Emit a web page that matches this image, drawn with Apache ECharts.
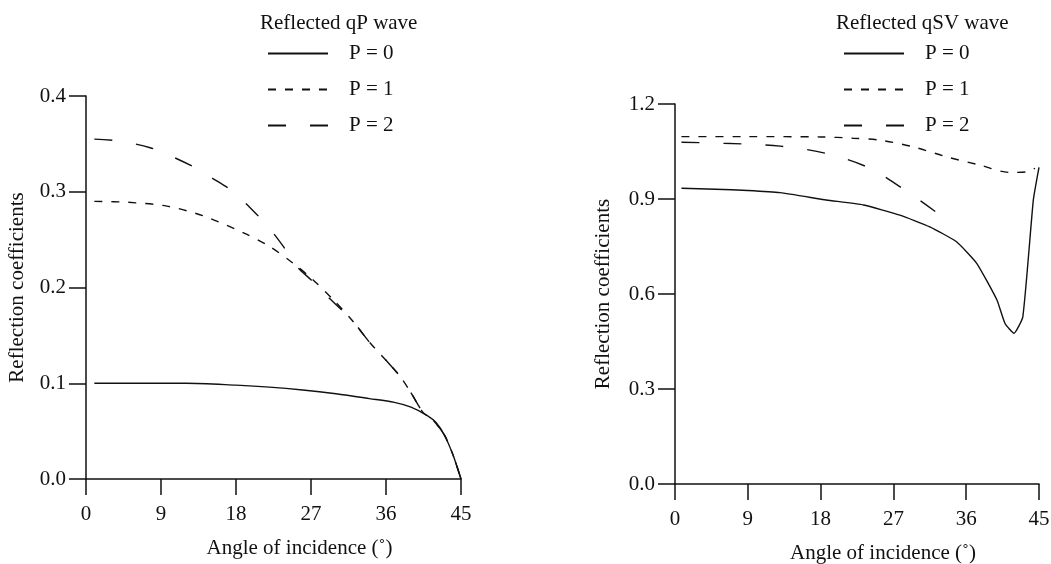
<!DOCTYPE html>
<html>
<head>
<meta charset="utf-8">
<script src="https://cdn.jsdelivr.net/npm/echarts@6/dist/echarts.min.js"></script>
<style>
  html, body { margin: 0; padding: 0; background: #fff; }
  #chart { width: 1051px; height: 564px; }
</style>
</head>
<body>
<div id="chart"></div>
<script>
// angle ticks
const angleTicks = [0, 9, 18, 27, 36, 45];
const legendNames = ['P = 0', 'P = 1', 'P = 2'];

// reflected qP wave
const qpAngle0 = [1, 6, 12, 18, 22, 26, 30, 34, 37, 39, 41, 42, 43, 44, 45];
const qpP0 = [0.1, 0.1, 0.1, 0.098, 0.096, 0.093, 0.089, 0.084, 0.080, 0.075, 0.066, 0.059, 0.046, 0.026, 0];
const qpAngle1 = [1, 5, 9.7, 14, 18.9, 22, 24.9, 27, 29.7, 32, 34.1, 36, 37.7, 39, 40.5, 41.5, 43, 44, 45];
const qpP1 = [0.29, 0.289, 0.285, 0.275, 0.257, 0.243, 0.225, 0.21, 0.187, 0.165, 0.142, 0.124, 0.107, 0.09, 0.069, 0.063, 0.046, 0.026, 0];
const qpAngle2 = [1, 4, 7.7, 10, 12.9, 15, 17.7, 19.5, 21.7, 23.5, 25.3, 27, 29.3, 32, 34.1, 36, 37.7, 39, 40.5, 41.5, 43, 44, 45];
const qpP2 = [0.355, 0.353, 0.346, 0.338, 0.326, 0.315, 0.300, 0.285, 0.265, 0.245, 0.222, 0.208, 0.188, 0.165, 0.142, 0.124, 0.107, 0.09, 0.069, 0.063, 0.046, 0.026, 0];

// reflected qSV wave
const svAngle0 = [0.8, 5, 9, 13, 18.7, 23.3, 27.8, 31.5, 34.8, 37.3, 39.8, 40.8, 41.9, 43, 44.3, 45];
const svP0 = [0.934, 0.931, 0.927, 0.920, 0.897, 0.881, 0.849, 0.812, 0.765, 0.697, 0.581, 0.507, 0.476, 0.528, 0.897, 1.0];
const svAngle1 = [0.8, 9, 18, 22, 25.3, 29.4, 33.6, 37.7, 41.4, 43.5, 44.5];
const svP1 = [1.097, 1.097, 1.096, 1.092, 1.086, 1.065, 1.033, 1.007, 0.984, 0.986, 0.997];
const svAngle2 = [0.8, 6, 13, 18.7, 24.1, 29, 33.6, 34.5];
const svP2 = [1.079, 1.076, 1.067, 1.044, 0.997, 0.918, 0.834, 0.815];

const serif = "'Liberation Serif', 'Times New Roman', serif";
const ink = '#111';
const fs = 21;
const dashStyles = ['solid', [8, 9], [18, 24]];

function pairs(xs, ys) {
    return xs.map((x, i) => [x, ys[i]]);
}

function makeSeries(idx, name, xs, ys, smooth) {
    return {
        name: name,
        type: 'line',
        xAxisIndex: idx,
        yAxisIndex: idx,
        data: pairs(xs, ys),
        symbol: 'none',
        smooth: smooth,
        lineStyle: {color: ink, width: 1.4, type: dashStyles[legendNames.indexOf(name)]},
        itemStyle: {color: ink},
        animation: false
    };
}

function xAxisFor(idx) {
    return {
        type: 'value',
        gridIndex: idx,
        min: 0, max: 45, interval: 9,
        name: 'Angle of incidence (˚)',
        nameLocation: 'middle',
        nameGap: 59,
        nameTextStyle: {fontFamily: serif, fontSize: fs, color: ink, padding: [0, 0, 0, 52]},
        axisLine: {lineStyle: {color: ink, width: 1.5}},
        axisTick: {inside: false, length: 16, lineStyle: {color: ink, width: 1.5}},
        axisLabel: {fontFamily: serif, fontSize: fs, color: ink, margin: 25,
            formatter: v => angleTicks.includes(v) ? String(v) : ''},
        splitLine: {show: false}
    };
}

function yAxisFor(idx, max, interval, gap) {
    return {
        type: 'value',
        gridIndex: idx,
        min: 0, max: max, interval: interval,
        name: 'Reflection coefficients',
        nameLocation: 'middle',
        nameGap: gap,
        nameTextStyle: {fontFamily: serif, fontSize: fs, color: ink},
        axisLine: {show: true, lineStyle: {color: ink, width: 1.5}},
        axisTick: {show: true, inside: false, length: 17, lineStyle: {color: ink, width: 1.5}},
        axisLabel: {fontFamily: serif, fontSize: fs, color: ink, margin: 20,
            formatter: v => v.toFixed(1)},
        splitLine: {show: false}
    };
}

function legendFor(left) {
    return {
        orient: 'vertical',
        left: left,
        top: 38,
        itemWidth: 60,
        itemHeight: 14,
        itemGap: 15,
        data: legendNames,
        selectedMode: false,
        itemStyle: {opacity: 0},
        textStyle: {fontFamily: serif, fontSize: fs, color: ink, padding: [0, 0, 0, 16]}
    };
}

const chart = echarts.init(document.getElementById('chart'));
chart.setOption({
    backgroundColor: '#fff',
    animation: false,
    title: [
        {text: 'Reflected qP wave', left: 255, top: 8,
            textStyle: {fontFamily: serif, fontSize: fs, fontWeight: 'normal', color: ink}},
        {text: 'Reflected qSV wave', left: 831, top: 8,
            textStyle: {fontFamily: serif, fontSize: fs, fontWeight: 'normal', color: ink}}
    ],
    legend: [legendFor(262), legendFor(838)],
    grid: [
        {left: 86, top: 96, width: 375, height: 383, outerBoundsMode: 'none'},
        {left: 675, top: 104, width: 364, height: 380, outerBoundsMode: 'none'}
    ],
    xAxis: [xAxisFor(0), xAxisFor(1)],
    yAxis: [yAxisFor(0, 0.4, 0.1, 58), yAxisFor(1, 1.2, 0.3, 61)],
    series: [
        makeSeries(0, 'P = 0', qpAngle0, qpP0, 0.3),
        makeSeries(0, 'P = 1', qpAngle1, qpP1, 0.3),
        makeSeries(0, 'P = 2', qpAngle2, qpP2, 0.3),
        makeSeries(1, 'P = 0', svAngle0, svP0, 0.15),
        makeSeries(1, 'P = 1', svAngle1, svP1, 0.3),
        makeSeries(1, 'P = 2', svAngle2, svP2, 0.3)
    ]
});
</script>
</body>
</html>
